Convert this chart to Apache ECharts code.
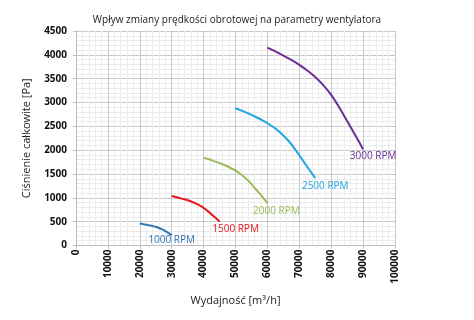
<!DOCTYPE html>
<html><head><meta charset="utf-8">
<script src="https://cdn.jsdelivr.net/npm/echarts@6/dist/echarts.min.js"></script>
<style>html,body{margin:0;padding:0;background:#fff}#c{width:474px;height:320px}</style>
</head><body><div id="c"></div>
<script>
const flow1000 = [20000, 20833, 21667, 22500, 23333, 24167, 25000, 25833, 26667, 27500, 28333, 29167, 30000];
const pres1000 = [460, 451, 442, 431, 420, 407, 392, 373, 350, 322, 290, 255, 218];
const flow1500 = [30000, 31250, 32500, 33750, 35000, 36250, 37500, 38750, 40000, 41250, 42500, 43750, 45000];
const pres1500 = [1038, 1018, 996, 974, 948, 919, 884, 842, 790, 726, 653, 580, 497];
const flow2000 = [40000, 41667, 43333, 45000, 46667, 48333, 50000, 51667, 53333, 55000, 56667, 58333, 60000];
const pres2000 = [1843, 1808, 1769, 1729, 1683, 1631, 1570, 1495, 1403, 1288, 1159, 1030, 890];
const flow2500 = [50000, 52083, 54167, 56250, 58333, 60417, 62500, 64583, 66667, 68750, 70833, 72917, 75000];
const pres2500 = [2880, 2825, 2765, 2701, 2630, 2549, 2454, 2336, 2192, 2013, 1812, 1610, 1415];
const flow3000 = [60000, 62500, 65000, 67500, 70000, 72500, 75000, 77500, 80000, 82500, 85000, 87500, 90000];
const pres3000 = [4150, 4072, 3985, 3893, 3790, 3672, 3535, 3365, 3160, 2900, 2610, 2320, 2020];
const seriesNames = ['1000 RPM', '1500 RPM', '2000 RPM', '2500 RPM', '3000 RPM'];
const xTicks = [0, 10000, 20000, 30000, 40000, 50000, 60000, 70000, 80000, 90000, 100000];
const yTicks = [0, 500, 1000, 1500, 2000, 2500, 3000, 3500, 4000, 4500];

const flows = [flow1000, flow1500, flow2000, flow2500, flow3000];
const press = [pres1000, pres1500, pres2000, pres2500, pres3000];
const colors = ['#2E75B6', '#E8161E', '#9BBB59', '#1FA5DF', '#6A2E97'];
const offsets = [[0, 5], [16, 7], [9, 8], [10, 8], [10, 7]];
const F = 'Open Sans, Liberation Sans, sans-serif';

const series = flows.map((fl, i) => {
  const data = fl.map((q, k) => [q, press[i][k]]);
  const last = data[data.length - 1];
  return {
    type: 'line', name: seriesNames[i], data: data, smooth: 0.3,
    symbol: 'none', lineStyle: {color: colors[i], width: 2}, z: 5,
    markPoint: {
      symbol: 'circle', symbolSize: 0, silent: true,
      data: [{coord: last}],
      label: {show: true, position: 'inside', formatter: seriesNames[i], offset: offsets[i],
        color: colors[i], fontFamily: F, fontSize: 10}
    }
  };
});

const chart = echarts.init(document.getElementById('c'));
chart.setOption({
  animation: false,
  title: {text: 'Wpływ zmiany prędkości obrotowej na parametry wentylatora', left: 'center', top: 10,
    textStyle: {fontFamily: F, fontSize: 10, fontWeight: 'normal', color: '#222'}},
  grid: {left: 76, right: 79, top: 31, bottom: 74.5},
  xAxis: {
    type: 'value', min: xTicks[0], max: xTicks[xTicks.length - 1], interval: 10000,
    name: 'Wydajność [m³/h]', nameLocation: 'middle', nameGap: 50,
    nameTextStyle: {fontFamily: F, fontSize: 11, color: '#222'},
    axisLine: {show: true, lineStyle: {color: '#BDBDBD'}},
    axisTick: {show: true, length: 3, lineStyle: {color: '#BDBDBD'}},
    axisLabel: {rotate: 90, fontFamily: F, fontSize: 10, fontWeight: 'bold', color: '#111', margin: 4,
      formatter: v => String(v)},
    splitLine: {show: true, lineStyle: {color: '#C8C8C8', width: 1}},
    minorTick: {show: false, splitNumber: 5},
    minorSplitLine: {show: true, lineStyle: {color: '#ECECEC', width: 1}}
  },
  yAxis: {
    type: 'value', min: yTicks[0], max: yTicks[yTicks.length - 1], interval: 500,
    name: 'Ciśnienie całkowite [Pa]', nameLocation: 'middle', nameGap: 44, nameRotate: 90,
    nameTextStyle: {fontFamily: F, fontSize: 11, color: '#222'},
    axisLine: {show: true, lineStyle: {color: '#BDBDBD'}},
    axisTick: {show: true, length: 3, lineStyle: {color: '#BDBDBD'}},
    axisLabel: {fontFamily: F, fontSize: 10, fontWeight: 'bold', color: '#111', margin: 9,
      formatter: v => String(v)},
    splitLine: {show: true, lineStyle: {color: '#C8C8C8', width: 1}},
    minorTick: {show: false, splitNumber: 5},
    minorSplitLine: {show: true, lineStyle: {color: '#ECECEC', width: 1}}
  },
  series: series
});
</script></body></html>
